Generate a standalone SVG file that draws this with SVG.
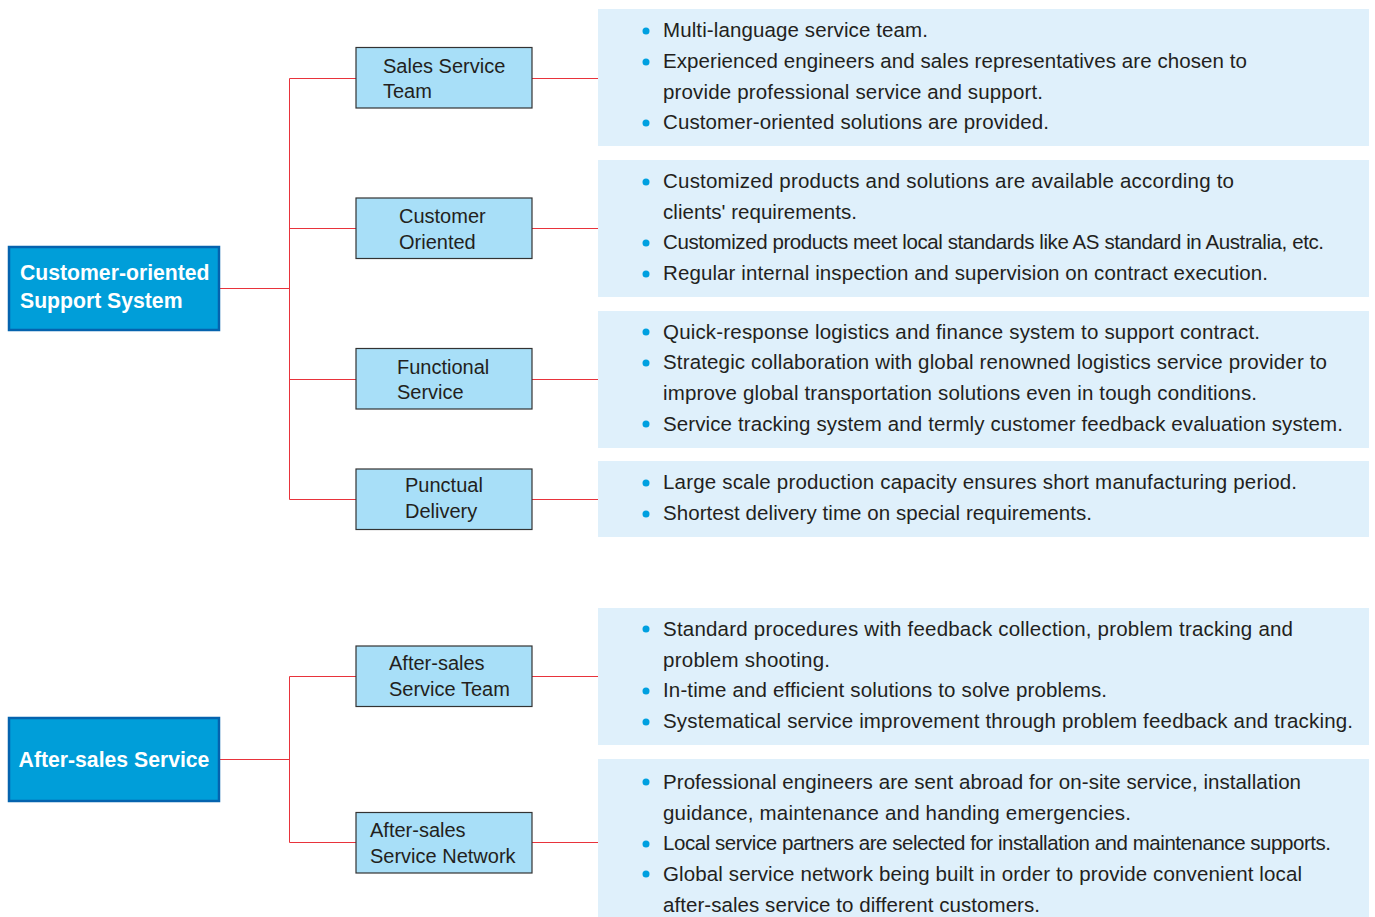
<svg xmlns="http://www.w3.org/2000/svg" width="1375" height="917" viewBox="0 0 1375 917">
<style>
.main rect{fill:#009ed9;stroke:#0563ae;stroke-width:2.5}
.main text{fill:#fff;font-family:"Liberation Sans",Arial,sans-serif;font-weight:bold;font-size:21.2px}
.sub rect{fill:#a8dff8;stroke:#333;stroke-width:1.2}
.sub text{fill:#231f20;font-family:"Liberation Sans",Arial,sans-serif;font-size:20px}
.panel rect{fill:#dff0fb}
.panel text{fill:#231f20;font-family:"Liberation Sans",Arial,sans-serif;font-size:20.5px}
.panel circle{fill:#00a0e0}
#connectors path{fill:none;stroke:#e8333b;stroke-width:1}
</style>
<g id="connectors">
<path d="M220 288.5H289.5M289.5 78.5V499.5M289.5 78.5H356M289.5 228.5H356M289.5 379.5H356M289.5 499.5H356"/>
<path d="M532 78.5H598M532 228.5H598M532 379.5H598M532 499.5H598"/>
<path d="M220 759.5H289.5M289.5 676.5V842.5M289.5 676.5H356M289.5 842.5H356"/>
<path d="M532 676.5H598M532 842.5H598"/>
</g>
<g id="main1" class="main"><rect x="9" y="247" width="210" height="83"/><text x="20" y="280">Customer-oriented</text><text x="20" y="308">Support System</text></g>
<g id="main2" class="main"><rect x="9" y="718" width="210" height="83"/><text x="114" y="767" text-anchor="middle">After-sales Service</text></g>
<g id="sub1" class="sub"><rect x="356" y="47.5" width="176" height="60.5"/><text x="383" y="73">Sales Service</text><text x="383" y="98">Team</text></g>
<g id="sub2" class="sub"><rect x="356" y="198" width="176" height="60.5"/><text x="399" y="223">Customer</text><text x="399" y="249">Oriented</text></g>
<g id="sub3" class="sub"><rect x="356" y="348.5" width="176" height="60.5"/><text x="397" y="374">Functional</text><text x="397" y="399">Service</text></g>
<g id="sub4" class="sub"><rect x="356" y="469" width="176" height="60.5"/><text x="405" y="492">Punctual</text><text x="405" y="518">Delivery</text></g>
<g id="sub5" class="sub"><rect x="356" y="646" width="176" height="60.5"/><text x="389" y="670">After-sales</text><text x="389" y="696">Service Team</text></g>
<g id="sub6" class="sub"><rect x="356" y="812.5" width="176" height="60.5"/><text x="370" y="837">After-sales</text><text x="370" y="863">Service Network</text></g>
<g id="panel1" class="panel"><rect x="598" y="9" width="771" height="137"/>
<circle cx="646" cy="31" r="3.5"/><text x="663" y="37" textLength="265">Multi-language service team.</text>
<circle cx="646" cy="62" r="3.5"/><text x="663" y="68" textLength="584">Experienced engineers and sales representatives are chosen to</text>
<text x="663" y="99" textLength="380">provide professional service and support.</text>
<circle cx="646" cy="123" r="3.5"/><text x="663" y="129" textLength="386">Customer-oriented solutions are provided.</text></g>
<g id="panel2" class="panel"><rect x="598" y="160" width="771" height="137"/>
<circle cx="646" cy="182" r="3.5"/><text x="663" y="188" textLength="571">Customized products and solutions are available according to</text>
<text x="663" y="219" textLength="194">clients' requirements.</text>
<circle cx="646" cy="243" r="3.5"/><text x="663" y="249" textLength="661">Customized products meet local standards like AS standard in Australia, etc.</text>
<circle cx="646" cy="274" r="3.5"/><text x="663" y="280" textLength="605">Regular internal inspection and supervision on contract execution.</text></g>
<g id="panel3" class="panel"><rect x="598" y="311" width="771" height="137"/>
<circle cx="646" cy="332" r="3.5"/><text x="663" y="339" textLength="597">Quick-response logistics and finance system to support contract.</text>
<circle cx="646" cy="363" r="3.5"/><text x="663" y="369" textLength="664">Strategic collaboration with global renowned logistics service provider to</text>
<text x="663" y="400" textLength="594">improve global transportation solutions even in tough conditions.</text>
<circle cx="646" cy="424" r="3.5"/><text x="663" y="431" textLength="680">Service tracking system and termly customer feedback evaluation system.</text></g>
<g id="panel4" class="panel"><rect x="598" y="461" width="771" height="76"/>
<circle cx="646" cy="483" r="3.5"/><text x="663" y="489" textLength="634">Large scale production capacity ensures short manufacturing period.</text>
<circle cx="646" cy="514" r="3.5"/><text x="663" y="520" textLength="429">Shortest delivery time on special requirements.</text></g>
<g id="panel5" class="panel"><rect x="598" y="608" width="771" height="137"/>
<circle cx="646" cy="629" r="3.5"/><text x="663" y="636" textLength="630">Standard procedures with feedback collection, problem tracking and</text>
<text x="663" y="667" textLength="167">problem shooting.</text>
<circle cx="646" cy="691" r="3.5"/><text x="663" y="697" textLength="444">In-time and efficient solutions to solve problems.</text>
<circle cx="646" cy="722" r="3.5"/><text x="663" y="728" textLength="690">Systematical service improvement through problem feedback and tracking.</text></g>
<g id="panel6" class="panel"><rect x="598" y="759" width="771" height="158"/>
<circle cx="646" cy="782" r="3.5"/><text x="663" y="789" textLength="638">Professional engineers are sent abroad for on-site service, installation</text>
<text x="663" y="820" textLength="468">guidance, maintenance and handing emergencies.</text>
<circle cx="646" cy="844" r="3.5"/><text x="663" y="850" textLength="668">Local service partners are selected for installation and maintenance supports.</text>
<circle cx="646" cy="874" r="3.5"/><text x="663" y="881" textLength="639">Global service network being built in order to provide convenient local</text>
<text x="663" y="912" textLength="377">after-sales service to different customers.</text></g>
</svg>
